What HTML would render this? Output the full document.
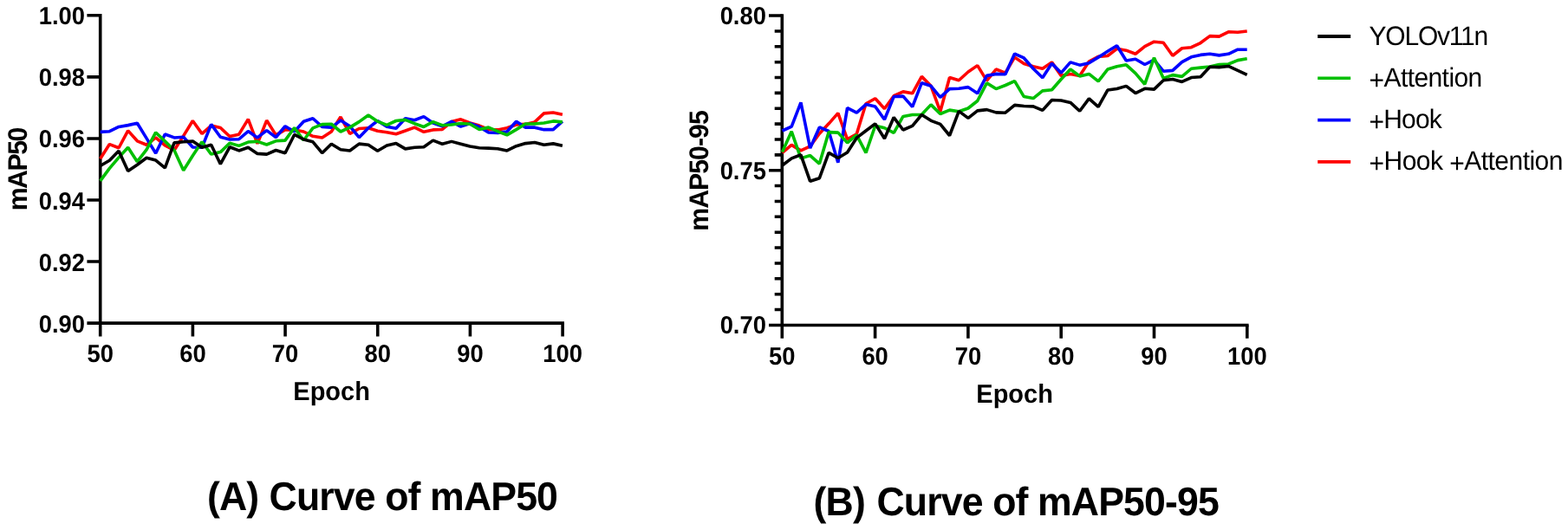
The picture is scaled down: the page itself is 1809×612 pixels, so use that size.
<!DOCTYPE html>
<html lang="en"><head><meta charset="utf-8"><title>Curves of mAP50 and mAP50-95</title>
<style>
html,body{margin:0;padding:0;background:#fff;}
body{width:1809px;height:612px;overflow:hidden;}
svg{display:block;}
text{font-family:"Liberation Sans",sans-serif;fill:#000;text-rendering:geometricPrecision;}
.tk{font-weight:700;font-size:28.8px;letter-spacing:0px;}
.ax{font-weight:700;font-size:30.3px;letter-spacing:0px;}
.yl{font-weight:700;font-size:31.2px;letter-spacing:-1.52px;}
.lg{font-weight:400;font-size:31.0px;letter-spacing:-1.3px;}
.tt{font-weight:700;font-size:46.2px;letter-spacing:-0.9px;}
.ln{fill:none;stroke-width:3.6;stroke-linejoin:bevel;stroke-linecap:butt;stroke-miterlimit:4;}
.axl{stroke:#000;fill:none;stroke-linecap:butt;}
</style></head><body>
<svg width="1809" height="612" viewBox="0 0 1809 612">
<rect width="1809" height="612" fill="#fff"/>
<g>
<g class="axl" stroke-width="3.55">
<path stroke-width="3.6" d="M115.7 16.03V388.38"/>
<path d="M100.40 373.1H650.90"/>
<path d="M100.40 17.80H115.7M100.40 88.86H115.7M100.40 159.92H115.7M100.40 230.98H115.7M100.40 302.04H115.7"/>
<path stroke-width="3.6" d="M222.38 373.1V388.38M329.06 373.1V388.38M435.74 373.1V388.38M542.42 373.1V388.38M649.10 373.1V388.38"/>
</g>
<polyline class="ln" stroke="#ff0000" points="115.70,183.24 126.36,166.57 137.03,170.74 147.69,150.88 158.36,162.82 169.02,167.27 179.68,158.93 190.35,167.96 201.01,173.52 211.68,156.85 222.34,139.49 233.00,154.35 243.67,145.04 254.33,147.54 265.00,157.54 275.66,155.18 286.32,137.68 296.99,165.88 307.65,139.07 318.32,155.88 328.98,149.91 339.64,149.91 350.31,151.99 360.97,157.27 371.64,158.93 382.30,151.99 392.96,135.04 403.63,154.35 414.29,148.52 424.96,147.82 435.62,151.29 446.28,152.68 456.95,154.77 467.61,151.02 478.28,147.13 488.94,152.27 499.60,149.91 510.27,149.49 520.93,140.60 531.60,137.82 542.26,141.99 552.92,145.04 563.59,149.49 574.25,149.91 584.92,147.82 595.58,144.07 606.24,143.38 616.91,140.88 627.57,130.88 638.24,130.04 648.90,132.27"/>
<polyline class="ln" stroke="#0000ff" points="115.70,152.41 126.36,151.71 137.03,146.43 147.69,144.63 158.36,142.27 169.02,159.63 179.68,176.99 190.35,155.04 201.01,158.93 211.68,158.24 222.34,170.04 233.00,170.32 243.67,143.66 254.33,158.24 265.00,161.02 275.66,160.74 286.32,151.57 296.99,158.93 307.65,150.60 318.32,158.52 328.98,145.74 339.64,151.99 350.31,140.18 360.97,136.71 371.64,146.43 382.30,147.13 392.96,139.07 403.63,145.74 414.29,158.66 424.96,147.82 435.62,139.49 446.28,146.16 456.95,148.24 467.61,136.71 478.28,138.79 488.94,134.63 499.60,141.99 510.27,145.74 520.93,140.46 531.60,146.16 542.26,142.54 552.92,146.43 563.59,152.96 574.25,153.38 584.92,151.99 595.58,140.18 606.24,147.13 616.91,147.13 627.57,149.63 638.24,149.63 648.90,140.18"/>
<polyline class="ln" stroke="#00bf00" points="115.70,208.93 126.36,194.35 137.03,181.85 147.69,170.32 158.36,186.71 169.02,172.82 179.68,152.96 190.35,163.10 201.01,173.52 211.68,196.71 222.34,179.77 233.00,163.79 243.67,178.10 254.33,175.60 265.00,165.18 275.66,168.38 286.32,164.07 296.99,163.38 307.65,166.99 318.32,162.82 328.98,162.13 339.64,147.54 350.31,161.99 360.97,147.82 371.64,143.66 382.30,143.24 392.96,151.99 403.63,147.13 414.29,140.60 424.96,132.96 435.62,140.18 446.28,144.35 456.95,139.49 467.61,138.38 478.28,142.68 488.94,146.43 499.60,140.60 510.27,144.77 520.93,144.07 531.60,142.54 542.26,143.24 552.92,149.49 563.59,147.13 574.25,151.71 584.92,155.88 595.58,149.63 606.24,142.96 616.91,142.96 627.57,141.99 638.24,139.91 648.90,140.88"/>
<polyline class="ln" stroke="#000000" points="115.70,191.57 126.36,185.32 137.03,174.21 147.69,197.41 158.36,190.18 169.02,182.27 179.68,185.04 190.35,193.93 201.01,164.91 211.68,163.79 222.34,163.10 233.00,170.32 243.67,167.27 254.33,189.49 265.00,169.77 275.66,173.93 286.32,170.32 296.99,177.41 307.65,178.10 318.32,173.52 328.98,176.71 339.64,155.46 350.31,161.02 360.97,163.79 371.64,176.71 382.30,166.29 392.96,172.82 403.63,173.93 414.29,166.16 424.96,167.27 435.62,174.21 446.28,167.96 456.95,165.60 467.61,171.85 478.28,170.32 488.94,169.77 499.60,162.13 510.27,166.29 520.93,163.38 531.60,166.16 542.26,169.07 552.92,170.74 563.59,171.16 574.25,171.71 584.92,173.93 595.58,168.66 606.24,165.60 616.91,164.49 627.57,167.27 638.24,165.88 648.90,168.24"/>
<text class="tk" text-anchor="end" transform="translate(98.00 28.00) scale(0.95 1)">1.00</text>
<text class="tk" text-anchor="end" transform="translate(98.00 99.00) scale(0.95 1)">0.98</text>
<text class="tk" text-anchor="end" transform="translate(98.00 170.00) scale(0.95 1)">0.96</text>
<text class="tk" text-anchor="end" transform="translate(98.00 242.00) scale(0.95 1)">0.94</text>
<text class="tk" text-anchor="end" transform="translate(98.00 313.00) scale(0.95 1)">0.92</text>
<text class="tk" text-anchor="end" transform="translate(98.00 384.00) scale(0.95 1)">0.90</text>
<text class="tk" text-anchor="middle" transform="translate(115.70 418.30) scale(0.95 1)">50</text>
<text class="tk" text-anchor="middle" transform="translate(222.38 418.30) scale(0.95 1)">60</text>
<text class="tk" text-anchor="middle" transform="translate(329.06 418.30) scale(0.95 1)">70</text>
<text class="tk" text-anchor="middle" transform="translate(435.74 418.30) scale(0.95 1)">80</text>
<text class="tk" text-anchor="middle" transform="translate(542.42 418.30) scale(0.95 1)">90</text>
<text class="tk" text-anchor="middle" transform="translate(649.10 418.30) scale(0.95 1)">100</text>
<text class="ax" text-anchor="middle" transform="translate(382.60 462.30) scale(0.957 1)">Epoch</text>
<text class="yl" text-anchor="middle" transform="translate(30.90 195.00) rotate(-90) scale(0.97 1)" x="-0.76">mAP50</text>
</g>
<g>
<g class="axl" stroke-width="3.55">
<path stroke-width="3.6" d="M902.3 16.28V390.67"/>
<path d="M887.00 375.4H1440.60"/>
<path d="M887.00 18.05H902.3M887.00 196.72H902.3M893.70 35.92H902.3M893.70 53.78H902.3M893.70 71.65H902.3M893.70 89.52H902.3M893.70 107.39H902.3M893.70 125.25H902.3M893.70 143.12H902.3M893.70 160.99H902.3M893.70 178.86H902.3M893.70 214.59H902.3M893.70 232.46H902.3M893.70 250.33H902.3M893.70 268.19H902.3M893.70 286.06H902.3M893.70 303.93H902.3M893.70 321.80H902.3M893.70 339.66H902.3M893.70 357.53H902.3"/>
<path stroke-width="3.6" d="M1009.60 375.4V390.67M1116.90 375.4V390.67M1224.20 375.4V390.67M1331.50 375.4V390.67M1438.80 375.4V390.67"/>
</g>
<polyline class="ln" stroke="#ff0000" points="902.50,176.33 913.22,167.34 923.95,173.87 934.67,168.97 945.40,154.27 956.12,142.83 966.84,130.57 977.57,160.80 988.29,154.76 999.02,119.74 1009.74,113.70 1020.46,125.46 1031.19,110.76 1041.91,105.86 1052.64,107.82 1063.36,88.37 1074.08,99.32 1084.81,128.73 1095.53,89.52 1106.26,92.78 1116.98,82.98 1127.70,75.63 1138.43,93.10 1149.15,80.03 1159.88,84.12 1170.60,66.14 1181.32,73.50 1192.05,76.76 1202.77,79.22 1213.50,71.86 1224.22,87.39 1234.94,85.42 1245.67,87.39 1256.39,71.05 1267.12,65.33 1277.84,64.51 1288.56,56.34 1299.29,58.17 1310.01,62.26 1320.74,53.60 1331.46,48.20 1342.18,49.18 1352.91,64.22 1363.63,55.72 1374.36,54.74 1385.08,49.51 1395.80,41.67 1406.53,42.16 1417.25,36.77 1427.98,37.26 1438.70,35.95"/>
<polyline class="ln" stroke="#0000ff" points="902.50,151.00 913.22,146.10 923.95,118.32 934.67,171.10 945.40,146.91 956.12,151.49 966.84,187.76 977.57,124.65 988.29,130.04 999.02,120.56 1009.74,123.01 1020.46,138.05 1031.19,111.57 1041.91,111.08 1052.64,123.34 1063.36,95.72 1074.08,99.32 1084.81,112.39 1095.53,102.59 1106.26,102.26 1116.98,100.63 1127.70,107.82 1138.43,87.39 1149.15,85.42 1159.88,85.75 1170.60,62.06 1181.32,66.96 1192.05,79.22 1202.77,89.84 1213.50,73.17 1224.22,84.12 1234.94,71.86 1245.67,75.13 1256.39,72.68 1267.12,66.14 1277.84,59.28 1288.56,52.75 1299.29,69.94 1310.01,68.30 1320.74,74.51 1331.46,69.12 1342.18,82.19 1352.91,81.37 1363.63,71.57 1374.36,65.85 1385.08,63.40 1395.80,62.26 1406.53,63.89 1417.25,62.26 1427.98,57.19 1438.70,57.19"/>
<polyline class="ln" stroke="#00bf00" points="902.50,175.51 913.22,151.82 923.95,182.86 934.67,179.59 945.40,189.07 956.12,152.63 966.84,153.12 977.57,164.89 988.29,155.90 999.02,176.33 1009.74,145.28 1020.46,147.73 1031.19,153.45 1041.91,134.45 1052.64,132.49 1063.36,132.33 1074.08,120.89 1084.81,131.51 1095.53,127.10 1106.26,128.73 1116.98,124.97 1127.70,116.48 1138.43,95.88 1149.15,102.58 1159.88,98.50 1170.60,93.59 1181.32,111.57 1192.05,113.53 1202.77,104.87 1213.50,103.73 1224.22,91.47 1234.94,80.03 1245.67,87.88 1256.39,85.42 1267.12,93.92 1277.84,80.03 1288.56,76.76 1299.29,74.84 1310.01,84.64 1320.74,97.22 1331.46,66.67 1342.18,90.36 1352.91,86.60 1363.63,88.40 1374.36,79.25 1385.08,78.11 1395.80,76.96 1406.53,74.51 1417.25,74.02 1427.98,69.61 1438.70,67.81"/>
<polyline class="ln" stroke="#000000" points="902.50,191.03 913.22,182.86 923.95,178.78 934.67,209.33 945.40,205.74 956.12,176.33 966.84,182.53 977.57,176.00 988.29,159.17 999.02,151.00 1009.74,142.83 1020.46,159.99 1031.19,135.59 1041.91,149.97 1052.64,145.40 1063.36,132.49 1074.08,139.35 1084.81,143.44 1095.53,156.51 1106.26,128.40 1116.98,136.41 1127.70,127.91 1138.43,126.60 1149.15,129.87 1159.88,130.20 1170.60,121.37 1181.32,122.52 1192.05,122.84 1202.77,127.42 1213.50,115.49 1224.22,115.98 1234.94,118.43 1245.67,128.24 1256.39,113.86 1267.12,123.33 1277.84,104.05 1288.56,102.58 1299.29,99.35 1310.01,107.52 1320.74,102.29 1331.46,103.11 1342.18,92.81 1352.91,91.51 1363.63,94.45 1374.36,89.54 1385.08,88.73 1395.80,77.29 1406.53,77.62 1417.25,76.47 1427.98,81.37 1438.70,86.28"/>
<text class="tk" text-anchor="end" transform="translate(883.90 28.00) scale(0.95 1)">0.80</text>
<text class="tk" text-anchor="end" transform="translate(883.90 207.00) scale(0.95 1)">0.75</text>
<text class="tk" text-anchor="end" transform="translate(883.90 385.00) scale(0.95 1)">0.70</text>
<text class="tk" text-anchor="middle" transform="translate(902.30 420.60) scale(0.95 1)">50</text>
<text class="tk" text-anchor="middle" transform="translate(1009.60 420.60) scale(0.95 1)">60</text>
<text class="tk" text-anchor="middle" transform="translate(1116.90 420.60) scale(0.95 1)">70</text>
<text class="tk" text-anchor="middle" transform="translate(1224.20 420.60) scale(0.95 1)">80</text>
<text class="tk" text-anchor="middle" transform="translate(1331.50 420.60) scale(0.95 1)">90</text>
<text class="tk" text-anchor="middle" transform="translate(1438.80 420.60) scale(0.95 1)">100</text>
<text class="ax" text-anchor="middle" transform="translate(1170.60 464.50) scale(0.957 1)">Epoch</text>
<text class="yl" text-anchor="middle" transform="translate(817.00 197.00) rotate(-90) scale(0.97 1)" x="-0.50" style="letter-spacing:-1.0px">mAP50-95</text>
</g>
<path d="M1520.2 42.00H1558.2" stroke="#000000" stroke-width="4" fill="none"/>
<text class="lg" text-anchor="start" transform="translate(1579.50 52.00) scale(0.968 1)" style="letter-spacing:-1.25px">YOLOv11n</text>
<path d="M1520.2 90.30H1558.2" stroke="#00bf00" stroke-width="3.6" fill="none"/>
<text class="lg" text-anchor="start" transform="translate(1579.50 100.00) scale(0.968 1)" dy="3.3 -3.3" style="letter-spacing:-0.6px">+Attention</text>
<path d="M1520.2 138.60H1558.2" stroke="#0000ff" stroke-width="3.6" fill="none"/>
<text class="lg" text-anchor="start" transform="translate(1579.50 148.00) scale(0.968 1)" dy="3.3 -3.3" style="letter-spacing:-0.85px">+Hook</text>
<path d="M1520.2 186.90H1558.2" stroke="#ff0000" stroke-width="3.6" fill="none"/>
<text class="lg" text-anchor="start" transform="translate(1579.50 196.00) scale(0.968 1)" dy="3.3 -3.3 0 0 0 0 3.3 -3.3" style="letter-spacing:-0.55px">+Hook +Attention</text>
<text class="tt" text-anchor="start" transform="translate(239.00 589.00) scale(0.966 1)" dx="0 0 0 0.7">(A) Curve of mAP50</text>
<text class="tt" text-anchor="start" transform="translate(938.60 595.00) scale(0.966 1)" dx="0 0 0 2.1">(B) Curve of mAP50-95</text>
</svg>
</body></html>
